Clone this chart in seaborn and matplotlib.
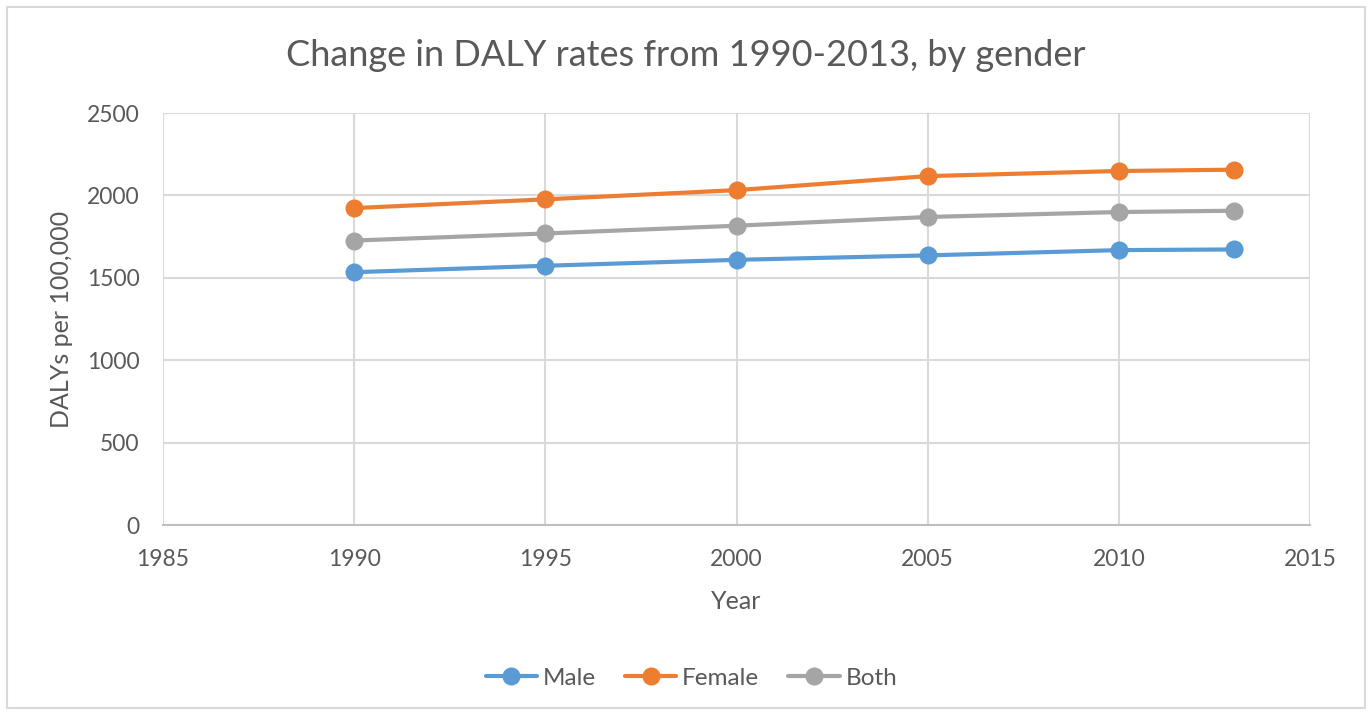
import pandas as pd
import matplotlib.pyplot as plt
import seaborn as sns

# values
years = [1990, 1995, 2000, 2005, 2010, 2013]
male = [1534, 1573, 1609, 1636, 1668, 1672]
female = [1923, 1976, 2032, 2117, 2148, 2156]
both = [1726, 1769, 1816, 1869, 1899, 1907]
groups = ['Male', 'Female', 'Both']
colors = ['#5B9BD5', '#ED7D31', '#A5A5A5']

df = pd.DataFrame({
    'Year': years * 3,
    'DALY': male + female + both,
    'Gender': [g for g in groups for _ in years],
})

sns.set_theme(style='white')
plt.rcParams['font.family'] = ['Lato', 'DejaVu Sans']
txt = '#595959'
grid = '#D9D9D9'

fig = plt.figure(figsize=(13.72, 7.15), dpi=100)
ax = fig.add_axes([163 / 1372, 1 - 525 / 715, (1310 - 163) / 1372, (525 - 113) / 715])

sns.lineplot(data=df, x='Year', y='DALY', hue='Gender', hue_order=groups,
             palette=colors, marker='o', markersize=13, markeredgewidth=0,
             linewidth=3, ax=ax)

ax.set_xlim(1985, 2015)
ax.set_ylim(0, 2500)
ax.set_xticks(range(1985, 2016, 5))
ax.set_yticks(range(0, 2501, 500))
ax.grid(True, color=grid, linewidth=1.5)
ax.set_axisbelow(True)
for s in ['top', 'right', 'left']:
    ax.spines[s].set_visible(False)
ax.spines['bottom'].set_color('#BFBFBF')
ax.spines['bottom'].set_linewidth(1.5)
ax.tick_params(axis='x', length=0, labelsize=16.5, colors=txt, pad=17)
ax.tick_params(axis='y', length=0, labelsize=16.5, colors=txt, pad=17)

ax.set_xlabel('Year', fontsize=18, color=txt, labelpad=15)
ax.set_ylabel('DALYs per 100,000', fontsize=18, color=txt, labelpad=10)

fig.text(0.5, 1 - 55 / 715, 'Change in DALY rates from 1990-2013, by gender',
         ha='center', va='center', fontsize=26, color=txt)

leg = fig.legend(*ax.get_legend_handles_labels(), loc='center',
                 bbox_to_anchor=(0.504, 1 - 678 / 715), ncol=3,
                 frameon=False, fontsize=17.5, handlelength=2.1,
                 columnspacing=1.2, handletextpad=0.25)
ax.get_legend().remove()
for t in leg.get_texts():
    t.set_color(txt)

# outer chart frame
fig.patches.append(plt.Rectangle((7 / 1372, 7 / 715), 1 - 14 / 1372, 1 - 14 / 715,
                                 transform=fig.transFigure, fill=False,
                                 edgecolor=grid, linewidth=1.5))

fig.savefig('out.png', dpi=100)
